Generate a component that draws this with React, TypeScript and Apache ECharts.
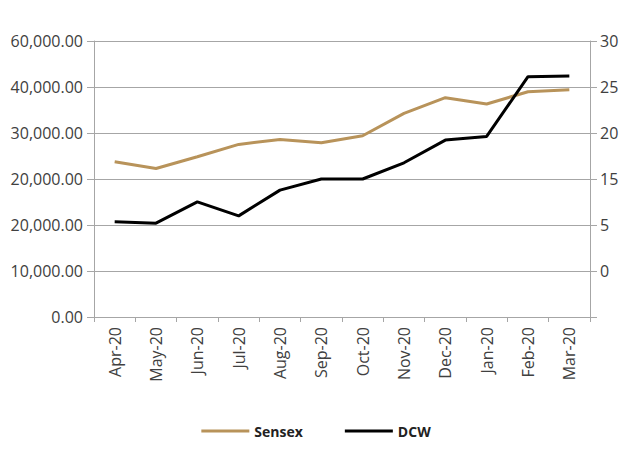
import React, { useEffect, useRef } from "react";
import * as echarts from "echarts";

const months = ["Apr-20", "May-20", "Jun-20", "Jul-20", "Aug-20", "Sep-20", "Oct-20", "Nov-20", "Dec-20", "Jan-20", "Feb-20", "Mar-20"];
const sensex = [33740, 32290, 34830, 37520, 38610, 37880, 39400, 44270, 47680, 46300, 48980, 49420];
const dcw = [10.34, 10.2, 12.52, 10.99, 13.79, 15.0, 15.0, 16.76, 19.23, 19.63, 26.12, 26.2];
const leftTickLabels = ["0.00", "10,000.00", "20,000.00", "20,000.00", "30,000.00", "40,000.00", "60,000.00"];
const rightTickLabels = ["", "0", "5", "15", "20", "25", "30"];

const FONT = "'Open Sans', 'Noto Sans', sans-serif";
const GRID_COLOR = "#a6a6a6";
const TEXT_COLOR = "#404040";

export default function App() {
  const ref = useRef<HTMLDivElement>(null);
  useEffect(() => {
    if (!ref.current) return;
    const chart = echarts.init(ref.current, undefined, { renderer: "svg" });
    chart.setOption({
      animation: false,
      backgroundColor: "#ffffff",
      textStyle: { fontFamily: FONT },
      grid: { left: 94, right: 42, top: 41, bottom: 136, containLabel: false },
      legend: {
        bottom: 10,
        left: "center",
        itemWidth: 48,
        itemHeight: 3,
        itemGap: 42,
        icon: "rect",
        textStyle: { fontFamily: FONT, fontSize: 14, fontWeight: "bold", color: "#222" },
        data: ["Sensex", "DCW"],
      },
      xAxis: {
        type: "category",
        data: months,
        boundaryGap: true,
        axisLine: { show: true, lineStyle: { color: GRID_COLOR, width: 1 } },
        axisTick: { show: true, length: 5, lineStyle: { color: GRID_COLOR } },
        axisLabel: { rotate: 90, color: TEXT_COLOR, fontSize: 16, fontFamily: FONT, margin: 10, interval: 0 },
        splitLine: { show: false },
      },
      yAxis: [
        {
          type: "value",
          min: 0,
          max: 60000,
          interval: 10000,
          position: "left",
          axisLine: { show: true, lineStyle: { color: GRID_COLOR, width: 1 } },
          axisTick: { show: true, length: 7, lineStyle: { color: GRID_COLOR } },
          axisLabel: {
            color: TEXT_COLOR,
            fontSize: 16,
            fontFamily: FONT,
            margin: 11,
            formatter: (v: number) => leftTickLabels[Math.round(v / 10000)] ?? "",
          },
          splitLine: { show: true, lineStyle: { color: GRID_COLOR, width: 1 } },
        },
        {
          type: "value",
          min: 0,
          max: 30,
          interval: 5,
          position: "right",
          axisLine: { show: true, lineStyle: { color: GRID_COLOR, width: 1 } },
          axisTick: { show: true, length: 7, lineStyle: { color: GRID_COLOR } },
          axisLabel: {
            color: TEXT_COLOR,
            fontSize: 16,
            fontFamily: FONT,
            margin: 10,
            formatter: (v: number) => rightTickLabels[Math.round(v / 5)] ?? "",
          },
          splitLine: { show: false },
        },
      ],
      series: [
        {
          name: "Sensex",
          type: "line",
          yAxisIndex: 0,
          data: sensex,
          symbol: "none",
          color: "#b8935a",
          lineStyle: { color: "#b8935a", width: 3 },
        },
        {
          name: "DCW",
          type: "line",
          yAxisIndex: 1,
          data: dcw,
          symbol: "none",
          color: "#000000",
          lineStyle: { color: "#000000", width: 3 },
        },
      ],
    });
    return () => chart.dispose();
  }, []);
  return <div ref={ref} style={{ width: 632, height: 453, position: "absolute", left: 0, top: 0 }} />;
}
